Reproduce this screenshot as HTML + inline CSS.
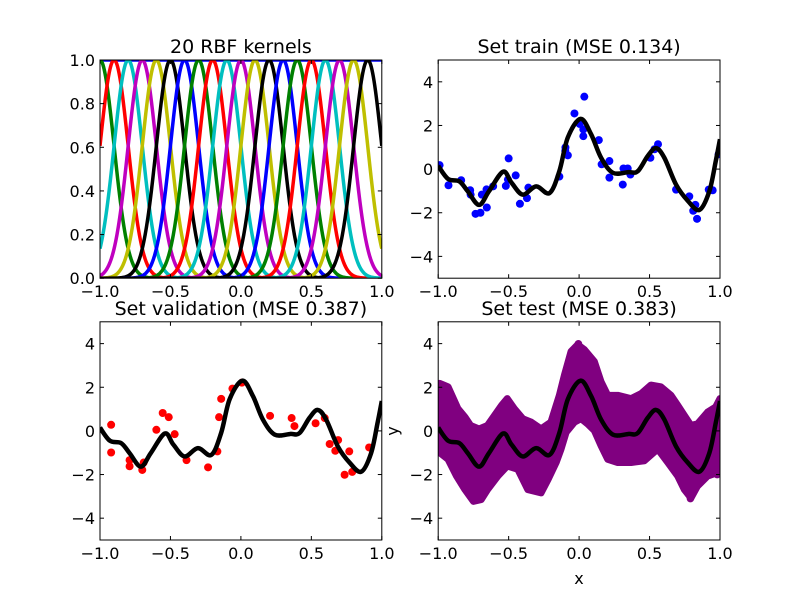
<!DOCTYPE html>
<html><head><meta charset="utf-8"><style>
html,body{margin:0;padding:0;background:#fff;}
svg{display:block;font-family:"DejaVu Sans","Liberation Sans",sans-serif;}
</style></head><body>
<svg id="fig" width="800" height="600" viewBox="0 0 800 600" xmlns="http://www.w3.org/2000/svg"></svg>
<script>
// ---- data ----
const kernelCenters = [-1.0,-0.9,-0.8,-0.7,-0.6,-0.5,-0.4,-0.3,-0.2,-0.1,0.0,0.1,0.2,0.3,0.4,0.5,0.6,0.7,0.8,0.9];
const kernelSigma = 0.1;
const kernelColors = ['#008000','#ff0000','#00bfbf','#bf00bf','#bfbf00','#000000','#0000ff'];
const fitX = [-1.0,-0.93,-0.85,-0.79,-0.71,-0.64,-0.54,-0.48,-0.40,-0.305,-0.21,-0.14,-0.08,0.01,0.085,0.156,0.24,0.35,0.416,0.487,0.546,0.605,0.688,0.771,0.854,0.924,0.97,1.0];
const fitY = [0.15,-0.45,-0.56,-1.02,-1.64,-1.02,-0.12,-0.62,-1.17,-0.79,-1.10,-0.09,1.45,2.30,1.6,0.52,-0.17,-0.14,-0.1,0.6,0.96,0.52,-0.71,-1.45,-1.87,-1.02,0.37,1.37];
const trainX = [-0.99,-0.927,-0.837,-0.773,-0.77,-0.735,-0.70,-0.69,-0.657,-0.655,-0.61,-0.52,-0.50,-0.505,-0.45,-0.42,-0.37,-0.36,-0.14,-0.098,-0.097,-0.08,-0.033,0.004,0.03,0.03,0.037,0.14,0.16,0.215,0.215,0.31,0.315,0.345,0.364,0.506,0.535,0.56,0.688,0.782,0.81,0.825,0.837,0.92,0.948,0.99];
const trainY = [0.18,-0.74,-0.51,-0.97,-1.17,-2.05,-2.0,-1.17,-0.93,-1.76,-0.79,-0.77,0.49,-0.48,-0.29,-1.59,-1.33,-0.85,-0.34,0.83,0.99,0.63,2.55,2.07,1.82,1.51,3.32,1.33,0.22,0.37,-0.39,-0.71,0.03,0.03,-0.25,0.52,0.91,1.14,-0.94,-1.25,-1.91,-1.64,-2.28,-0.94,-0.97,0.68];
const valX = [-0.921,-0.921,-0.79,-0.79,-0.70,-0.69,-0.6,-0.555,-0.512,-0.47,-0.386,-0.233,-0.167,-0.155,-0.14,-0.06,0.007,0.207,0.36,0.38,0.53,0.595,0.63,0.69,0.67,0.769,0.736,0.79,0.91];
const valY = [0.28,-0.99,-1.34,-1.62,-1.79,-1.45,0.05,0.82,0.63,-0.15,-1.34,-1.67,-0.94,0.63,1.47,1.94,2.21,0.69,0.59,0.22,0.35,0.59,-0.6,-0.42,-0.91,-0.94,-2.01,-1.88,-0.76];
const testUpX = [-0.99,-0.93,-0.86,-0.81,-0.77,-0.71,-0.65,-0.60,-0.55,-0.51,-0.46,-0.40,-0.34,-0.27,-0.20,-0.14,-0.104,-0.057,-0.01,0.038,0.108,0.156,0.203,0.274,0.369,0.44,0.51,0.58,0.652,0.70,0.747,0.794,0.84,0.912,0.97,1.0];
const testUpY = [2.18,2.02,1.02,0.63,0.25,0.09,0.25,0.71,1.17,1.48,1.02,0.56,0.40,0.09,0.40,1.63,2.56,3.64,3.95,3.72,3.18,2.25,1.63,1.63,1.48,1.71,2.10,2.02,1.63,1.17,0.71,0.25,0.32,0.86,1.10,1.48];
const testLoX = [-0.99,-0.93,-0.87,-0.81,-0.75,-0.695,-0.65,-0.577,-0.51,-0.435,-0.364,-0.27,-0.22,-0.163,-0.128,-0.092,-0.033,0.014,0.06,0.108,0.156,0.203,0.274,0.369,0.463,0.558,0.63,0.70,0.747,0.794,0.84,0.912,0.983,1.0];
const testLoY = [-0.99,-1.30,-2.07,-2.69,-3.23,-3.15,-2.69,-2.07,-1.61,-1.76,-2.69,-2.84,-2.22,-1.45,-0.83,-0.06,0.40,0.56,0.32,0.02,-0.68,-1.30,-1.45,-1.45,-1.37,-0.83,-1.45,-2.07,-2.69,-3.07,-2.53,-2.07,-1.91,-1.61];
const testOutX = [-0.005,0.08,0.17,0.79,0.98];
const testOutY = [3.99,3.0,1.79,-3.1,-2.0];
const xTicks = [-1.0,-0.5,0.0,0.5,1.0];
const xTickLabels = ['\u22121.0','\u22120.5','0.0','0.5','1.0'];
const kTicks = [0,0.2,0.4,0.6,0.8,1.0];
const kTickLabels = ['0.0','0.2','0.4','0.6','0.8','1.0'];
const yTicks = [-4,-2,0,2,4];
const yTickLabels = ['\u22124','\u22122','0','2','4'];

const NS='http://www.w3.org/2000/svg';
const svg=document.getElementById('fig');
function mk(tag,attrs,parent){const e=document.createElementNS(NS,tag);for(const k in attrs)e.setAttribute(k,attrs[k]);(parent||svg).appendChild(e);return e;}

const AW=281.8, AH=218.2;
const panels=[
 {id:'kernels',x0:100,y0:60,ymin:0,ymax:1,title:'20 RBF kernels'},
 {id:'train',x0:438.2,y0:60,ymin:-5,ymax:5,title:'Set train (MSE 0.134)'},
 {id:'validation',x0:100,y0:321.8,ymin:-5,ymax:5,title:'Set validation (MSE 0.387)'},
 {id:'test',x0:438.2,y0:321.8,ymin:-5,ymax:5,title:'Set test (MSE 0.383)'}
];
panels.forEach(p=>{
 p.sx=v=>p.x0+(v+1)/2*AW;
 p.sy=v=>p.y0+AH-(v-p.ymin)/(p.ymax-p.ymin)*AH;
 const g=mk('g',{});
 
 
 p.g=g;
 const cp=mk('clipPath',{id:'clip-'+p.id},g);
 mk('rect',{x:p.x0,y:p.y0,width:AW,height:AH},cp);
 p.plot=mk('g',{'clip-path':'url(#clip-'+p.id+')'},g);
 
 
});

function smoothPath(p,xs,ys){
 const pts=xs.map((x,i)=>[p.sx(x),p.sy(ys[i])]);
 let d='M'+pts[0][0].toFixed(2)+','+pts[0][1].toFixed(2);
 for(let i=0;i<pts.length-1;i++){
  const p0=pts[Math.max(0,i-1)],p1=pts[i],p2=pts[i+1],p3=pts[Math.min(pts.length-1,i+2)];
  const c1=[p1[0]+(p2[0]-p0[0])/6,p1[1]+(p2[1]-p0[1])/6];
  const c2=[p2[0]-(p3[0]-p1[0])/6,p2[1]-(p3[1]-p1[1])/6];
  d+=' C'+c1[0].toFixed(2)+','+c1[1].toFixed(2)+' '+c2[0].toFixed(2)+','+c2[1].toFixed(2)+' '+p2[0].toFixed(2)+','+p2[1].toFixed(2);
 }
 return d;
}
function linePath(p,xs,ys){return xs.map((x,i)=>(i?'L':'M')+p.sx(x).toFixed(2)+','+p.sy(ys[i]).toFixed(2)).join(' ');}

// kernels panel
(function(){
 const p=panels[0];
 const bias=mk('line',{x1:p.sx(-1),x2:p.sx(1),y1:p.sy(1),y2:p.sy(1),stroke:'#0000ff','stroke-width':3.5},p.plot);
 
 
 kernelCenters.forEach((c,k)=>{
  const xs=[],ys=[];
  for(let i=0;i<=400;i++){const x=-1+i/200;xs.push(x);ys.push(Math.exp(-(x-c)*(x-c)/(2*kernelSigma*kernelSigma)));}
  const e=mk('path',{d:linePath(p,xs,ys),fill:'none',stroke:kernelColors[k%7],'stroke-width':3.5},p.plot);
  
  
 });
})();

// test band
(function(){
 const p=panels[3];
 const rx=testLoX.slice().reverse(), ry=testLoY.slice().reverse();
 const d=linePath(p,testUpX.concat(rx),testUpY.concat(ry))+' Z';
 const e=mk('path',{d:d,fill:'#800080',stroke:'#800080','stroke-width':7,'stroke-linejoin':'round'},p.plot);
 
 
 testOutX.forEach((x,i)=>{
  const c=mk('circle',{cx:p.sx(x),cy:p.sy(testOutY[i]),r:3.8,fill:'#800080'},p.plot);
  
  
 });
})();

function scatter(p,xs,ys,color,name){
 xs.forEach((x,i)=>{
  const c=mk('circle',{cx:p.sx(x),cy:p.sy(ys[i]),r:4,fill:color},p.plot);
  
  
 });
}
function fitLine(p){
 const e=mk('path',{d:smoothPath(p,fitX,fitY),fill:'none',stroke:'#000','stroke-width':4.5,'stroke-linejoin':'round'},p.plot);
 
 
}
scatter(panels[1],trainX,trainY,'#0000ff','train-point'); fitLine(panels[1]);
scatter(panels[2],valX,valY,'#ff0000','validation-point'); fitLine(panels[2]);
fitLine(panels[3]);

// axes
panels.forEach((p,idx)=>{
 const g=p.g;
 const fr=mk('rect',{x:p.x0,y:p.y0,width:AW,height:AH,fill:'none',stroke:'#000','stroke-width':1},g);
 
 
 xTicks.forEach((t,i)=>{
  const x=p.sx(t);
  mk('line',{x1:x,x2:x,y1:p.y0+AH,y2:p.y0+AH-4,stroke:'#000'},g);
  mk('line',{x1:x,x2:x,y1:p.y0,y2:p.y0+4,stroke:'#000'},g);
  const tx=mk('text',{x:x,y:p.y0+AH+19,'text-anchor':'middle','font-size':16},g);
  tx.textContent=xTickLabels[i];
  
  
 });
 const yt=idx===0?kTicks:yTicks, yl=idx===0?kTickLabels:yTickLabels;
 yt.forEach((t,i)=>{
  const y=p.sy(t);
  mk('line',{x1:p.x0,x2:p.x0+4,y1:y,y2:y,stroke:'#000'},g);
  mk('line',{x1:p.x0+AW,x2:p.x0+AW-4,y1:y,y2:y,stroke:'#000'},g);
  const tx=mk('text',{x:p.x0-5,y:y+6,'text-anchor':'end','font-size':16},g);
  tx.textContent=yl[i];
  
  
 });
 const ti=mk('text',{x:p.x0+AW/2,y:p.y0-7,'text-anchor':'middle','font-size':19},g);
 ti.textContent=p.title;
 
 
});
const xl=mk('text',{x:579,y:584,'text-anchor':'middle','font-size':16});
xl.textContent='x';


const yl=mk('text',{x:398,y:431,'text-anchor':'middle','font-size':16,transform:'rotate(-90 398 431)'});
yl.textContent='y';


</script>
</body></html>
